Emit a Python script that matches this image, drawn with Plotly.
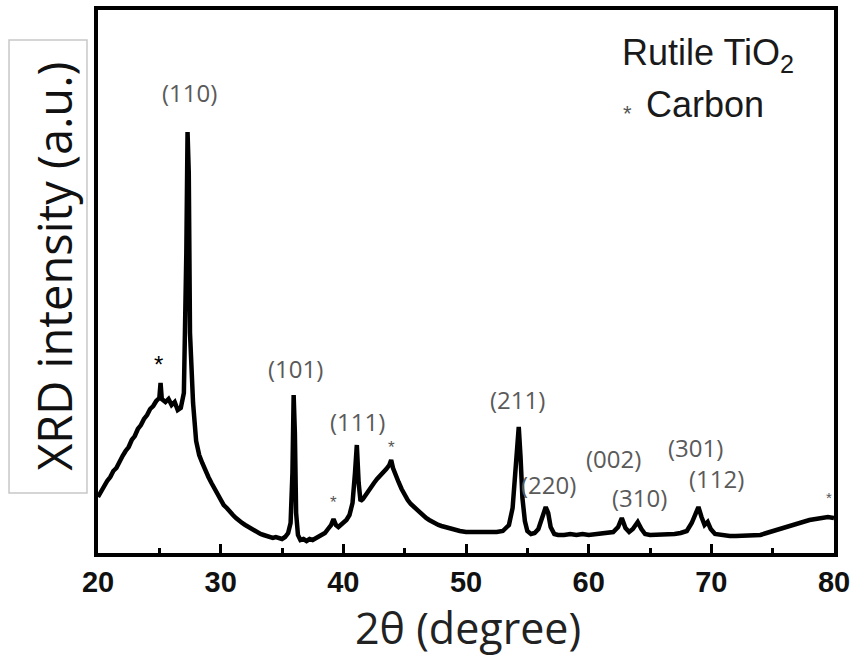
import plotly.graph_objects as go

# XRD pattern (2θ in degrees, intensity in arbitrary units)
two_theta = [
    20.0, 20.25, 20.5, 20.75, 21.0, 21.25, 21.5, 21.75, 22.0, 22.25, 22.5, 22.75,
    23.0, 23.25, 23.5, 23.75, 24.0, 24.25, 24.5, 24.75, 25.0, 25.1, 25.2, 25.5,
    25.75, 26.0, 26.25, 26.5, 26.75, 27.0, 27.1, 27.2, 27.3, 27.4, 27.5, 27.6,
    27.75, 28.0, 28.25, 28.5, 28.75, 29.0, 29.25, 29.5, 29.75, 30.0, 30.25, 30.5,
    30.75, 31.0, 31.25, 31.5, 31.75, 32.0, 32.25, 32.5, 32.75, 33.0, 33.25, 33.5,
    33.75, 34.0, 34.25, 34.5, 34.75, 35.0, 35.25, 35.5, 35.7, 35.85, 35.95, 36.05,
    36.15, 36.3, 36.5, 36.75, 37.0, 37.25, 37.5, 37.75, 38.0, 38.25, 38.5, 38.75,
    39.0, 39.2, 39.4, 39.6, 39.8, 40.0, 40.25, 40.5, 40.75, 40.95, 41.1, 41.25,
    41.4, 41.6, 41.8, 42.0, 42.25, 42.5, 42.75, 43.0, 43.25, 43.5, 43.75, 43.9,
    44.05, 44.25, 44.5, 44.75, 45.0, 45.25, 45.5, 45.75, 46.0, 46.25, 46.5, 46.75,
    47.0, 47.25, 47.5, 47.75, 48.0, 48.25, 48.5, 48.75, 49.0, 49.5, 50.0, 50.5,
    51.0, 51.5, 52.0, 52.5, 53.0, 53.5, 53.8, 54.0, 54.15, 54.3, 54.45, 54.6,
    54.8, 55.0, 55.3, 55.6, 55.9, 56.2, 56.5, 56.7, 56.9, 57.2, 57.5, 58.0,
    58.5, 59.0, 59.5, 60.0, 60.5, 61.0, 61.5, 62.0, 62.4, 62.7, 63.0, 63.3,
    63.6, 64.0, 64.3, 64.6, 65.0, 65.5, 66.0, 66.5, 67.0, 67.5, 68.0, 68.4,
    68.7, 68.95, 69.2, 69.45, 69.7, 69.95, 70.3, 70.8, 71.5, 72.0, 72.5, 73.0,
    73.5, 74.0, 74.5, 75.0, 75.5, 76.0, 76.5, 77.0, 77.5, 78.0, 78.5, 79.0,
    79.5, 80.0,
]
intensity = [
    56, 62, 66, 72, 76, 82, 85, 92, 97, 102, 106, 113,
    117, 124, 128, 134, 138, 144, 147, 152, 155, 170, 154, 151,
    154, 148, 151, 143, 145, 160, 220, 300, 421, 380, 220, 186,
    150, 112, 98, 90, 82, 76, 70, 64, 58, 52, 48, 45,
    41, 38, 35, 32, 30, 28, 26, 24, 22, 21, 19, 18,
    17, 17, 15, 16, 15, 14, 16, 20, 30, 80, 158, 120,
    40, 18, 13, 14, 12, 14, 13, 15, 16, 18, 20, 24,
    28, 34, 28, 26, 28, 30, 33, 38, 50, 80, 108, 70,
    52, 54, 58, 62, 66, 70, 74, 77, 80, 84, 88, 93,
    85, 78, 71, 64, 58, 53, 49, 46, 43, 40, 37, 35,
    33, 31, 29, 28, 27, 26, 25, 24, 23, 22, 21, 21,
    20, 20, 20, 21, 22, 28, 45, 80, 110, 126, 95, 55,
    32, 22, 19, 20, 24, 34, 46, 40, 26, 19, 18, 18,
    19, 18, 19, 18, 19, 19, 20, 21, 26, 35, 25, 21,
    24, 31, 24, 19, 18, 18, 18, 19, 19, 20, 22, 30,
    40, 46, 36, 28, 31, 24, 19, 18, 17, 17, 17, 17,
    18, 18, 20, 22, 24, 26, 28, 30, 32, 33, 34, 35,
    36, 35,
]

# Miller-index labels for rutile reflections
hkl_labels = ["(110)", "(101)", "(111)", "(211)", "(220)", "(002)", "(310)", "(301)", "(112)"]
hkl_x = [27.42, 36.14, 41.19, 54.23, 56.76, 62.05, 64.17, 68.74, 70.45]
hkl_y = [461, 185, 132, 154, 69, 95, 56, 106, 75]

# Carbon reflections marked with asterisks
carbon_x = [24.97, 39.23, 43.96, 79.6]
carbon_y = [189, 51, 106, 56]
carbon_size = [24, 17, 17, 15]
carbon_color = ["#000000", "#555555", "#555555", "#555555"]

fig = go.Figure()
fig.add_trace(go.Scatter(
    x=two_theta, y=intensity, mode="lines",
    line=dict(color="black", width=4.5),
    showlegend=False, hoverinfo="skip",
))

annotations = []
for lab, xv, yv in zip(hkl_labels, hkl_x, hkl_y):
    annotations.append(dict(
        x=xv, y=yv, xref="x", yref="y", text=lab, showarrow=False,
        xanchor="center", yanchor="middle",
        font=dict(family="Open Sans", size=24, color="#5a5a5a"),
    ))
for xv, yv, sz, col in zip(carbon_x, carbon_y, carbon_size, carbon_color):
    annotations.append(dict(
        x=xv, y=yv, xref="x", yref="y", text="*", showarrow=False,
        xanchor="center", yanchor="middle",
        font=dict(family="Liberation Sans", size=sz, color=col),
    ))

# Phase legend in the upper right corner
annotations.append(dict(
    x=0.709, y=0.918, xref="paper", yref="paper", xanchor="left", yanchor="middle",
    text="Rutile TiO<sub>2</sub>", showarrow=False,
    font=dict(family="Liberation Sans", size=36, color="#1a1a1a"),
))
annotations.append(dict(
    x=0.72, y=0.81, xref="paper", yref="paper", xanchor="center", yanchor="middle",
    text="*", showarrow=False,
    font=dict(family="Liberation Sans", size=22, color="#555555"),
))
annotations.append(dict(
    x=0.742, y=0.826, xref="paper", yref="paper", xanchor="left", yanchor="middle",
    text="Carbon", showarrow=False,
    font=dict(family="Liberation Sans", size=36, color="#1a1a1a"),
))

# Axis titles
annotations.append(dict(
    x=-0.06, y=0.5285, xref="paper", yref="paper", textangle=-90,
    xanchor="center", yanchor="middle",
    text="XRD intensity (a.u.)", showarrow=False,
    font=dict(family="Open Sans", size=47, color="#111111"),
))
annotations.append(dict(
    x=0.503, y=-0.138, xref="paper", yref="paper",
    xanchor="center", yanchor="middle",
    text="2θ (degree)", showarrow=False,
    font=dict(family="Open Sans", size=43, color="#222222"),
))

shapes = [dict(
    type="rect", xref="paper", yref="paper",
    x0=-0.1209, x1=-0.01495, y0=0.1105, y1=0.9448,
    line=dict(color="#c8c8c8", width=1.5),
)]

fig.update_layout(
    width=853, height=666,
    margin=dict(l=98, r=19, t=10, b=113),
    paper_bgcolor="white", plot_bgcolor="white",
    annotations=annotations, shapes=shapes,
    xaxis=dict(
        range=[20, 80], dtick=10, tick0=20, ticks="inside", ticklen=9, tickwidth=3,
        tickcolor="black", showgrid=False, zeroline=False, automargin=False,
        ticklabeloverflow="allow",
        showline=True, linecolor="black", linewidth=3.5, mirror=True,
        tickfont=dict(family="Liberation Sans", size=29, color="#111111", weight="bold"),
        minor=dict(dtick=5, ticks="inside", ticklen=5, tickwidth=3, tickcolor="black"),
    ),
    yaxis=dict(
        range=[0, 543], showticklabels=False, ticks="", showgrid=False, zeroline=False,
        showline=True, linecolor="black", linewidth=3.5, mirror=True,
    ),
)

fig.write_html("out.html")
